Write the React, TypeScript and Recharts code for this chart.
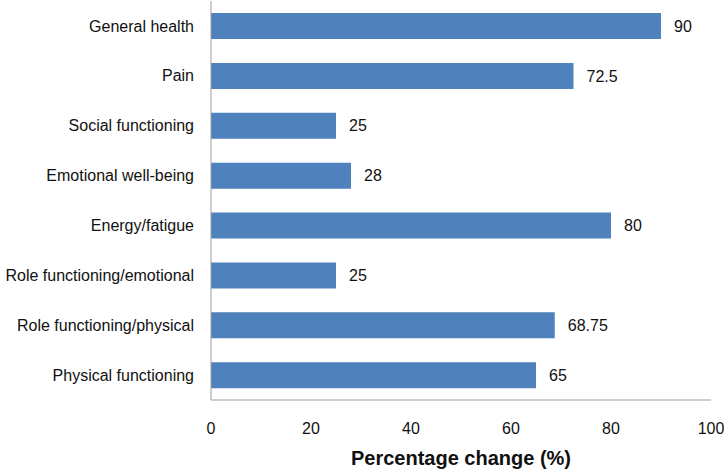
import { BarChart, Bar, XAxis, YAxis, LabelList } from 'recharts';

// Categories listed top to bottom, as in the picture
const categories = [
  'General health',
  'Pain',
  'Social functioning',
  'Emotional well-being',
  'Energy/fatigue',
  'Role functioning/emotional',
  'Role functioning/physical',
  'Physical functioning',
];

const changes = [90, 72.5, 25, 28, 80, 25, 68.75, 65];

const xTicks = [0, 20, 40, 60, 80, 100];

const data = categories.map((name, i) => ({ name, value: changes[i] }));

const FONT = '"Liberation Sans", Arial, sans-serif';

export default function App() {
  return (
    <div style={{ position: 'absolute', left: 0, top: 0, width: 724, height: 473, background: '#fff', fontFamily: FONT }}>
      <BarChart
        width={724}
        height={473}
        data={data}
        layout="vertical"
        barCategoryGap={0}
        margin={{ top: 1, right: 13, left: 0, bottom: 33 }}
      >
        <XAxis
          type="number"
          domain={[0, 100]}
          ticks={xTicks}
          height={40}
          tickLine={false}
          tickMargin={17}
          axisLine={{ stroke: '#9d9d9d' }}
          tick={{ fill: '#111', fontSize: 16, fontFamily: FONT }}
          label={{
            value: 'Percentage change (%)',
            position: 'bottom',
            offset: 11,
            fill: '#111',
            fontSize: 20,
            fontWeight: 'bold',
            fontFamily: FONT,
          }}
        />
        <YAxis
          type="category"
          dataKey="name"
          width={211}
          tickLine={false}
          tickMargin={11}
          axisLine={{ stroke: '#9d9d9d' }}
          tick={{ fill: '#111', fontSize: 16, fontFamily: FONT }}
          interval={0}
        />
        <Bar dataKey="value" fill="#4f81bd" barSize={26} isAnimationActive={false}>
          <LabelList
            dataKey="value"
            position="right"
            offset={13}
            fill="#111"
            fontSize={16}
            fontFamily={FONT}
          />
        </Bar>
      </BarChart>
    </div>
  );
}
